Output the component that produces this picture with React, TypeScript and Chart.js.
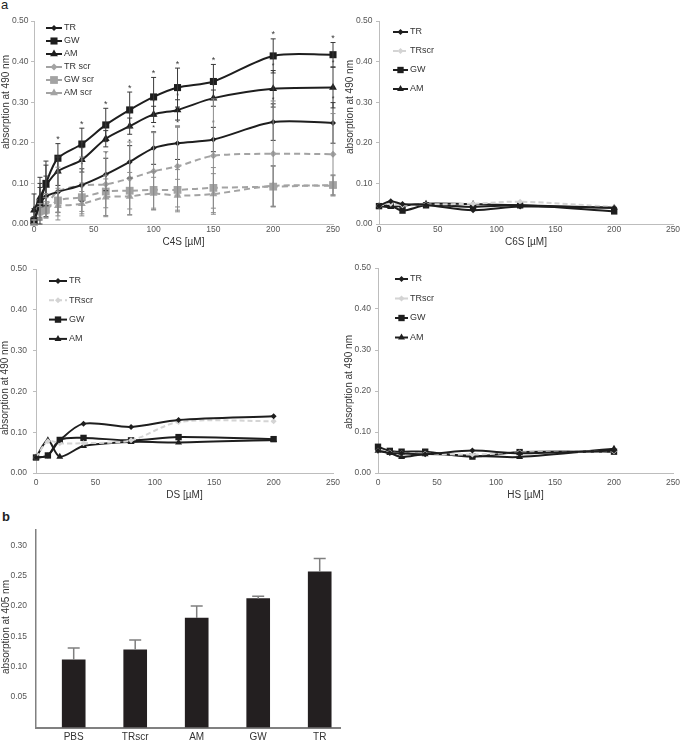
import React, { useEffect, useRef } from 'react';
import { Chart, registerables } from 'chart.js';
Chart.register(...registerables);

const FONT = '"Liberation Sans", Arial, Helvetica, sans-serif';
const BLACK = '#1e1e1e';
const GRAY = '#a3a3a3';
const LIGHT = '#d4d4d4';
const AXIS = '#bdbdbd';
const TICKCOL = '#555555';

// ---------- Panel a: C4S ----------
const c4sConc = [0, 5, 10, 20, 40, 60, 80, 100, 120, 150, 200, 250];
const c4sTR = [0.008, 0.05, 0.068, 0.079, 0.096, 0.122, 0.153, 0.187, 0.199, 0.208, 0.251, 0.249];
const c4sTRerr = [0.03, 0.04, 0.05, 0.05, 0.04, 0.04, 0.04, 0.04, 0.04, 0.03, 0.045, 0.05];
const c4sGW = [0.008, 0.05, 0.1, 0.162, 0.197, 0.244, 0.281, 0.313, 0.336, 0.351, 0.414, 0.417];
const c4sGWerr = [0.01, 0.05, 0.055, 0.036, 0.039, 0.041, 0.044, 0.048, 0.048, 0.042, 0.042, 0.03];
const c4sAM = [0.034, 0.065, 0.095, 0.13, 0.158, 0.21, 0.241, 0.27, 0.281, 0.31, 0.333, 0.336];
const c4sAMerr = [0.04, 0.05, 0.05, 0.035, 0.03, 0.02, 0.02, 0.02, 0.025, 0.02, 0.045, 0.05];
const c4sTRscr = [0.005, 0.03, 0.045, 0.08, 0.095, 0.098, 0.112, 0.13, 0.142, 0.168, 0.173, 0.172];
const c4sTRscrErr = [0.005, 0.02, 0.03, 0.06, 0.07, 0.08, 0.09, 0.095, 0.1, 0.14, 0.13, 0.1];
const c4sGWscr = [0.005, 0.035, 0.035, 0.058, 0.066, 0.08, 0.082, 0.084, 0.084, 0.089, 0.092, 0.096];
const c4sGWscrErr = [0.005, 0.015, 0.02, 0.03, 0.035, 0.04, 0.045, 0.045, 0.05, 0.05, 0.05, 0.025];
const c4sAMscr = [0.005, 0.028, 0.045, 0.045, 0.05, 0.066, 0.068, 0.075, 0.07, 0.074, 0.094, 0.094];
const c4sAMscrErr = [0.005, 0.015, 0.02, 0.035, 0.03, 0.045, 0.045, 0.04, 0.04, 0.05, 0.05, 0.025];

// ---------- C6S / DS / HS ----------
const gagConc = [0, 10, 20, 40, 80, 120, 200];
const c6sTR = [0.045, 0.056, 0.049, 0.047, 0.034, 0.043, 0.04];
const c6sTRscr = [0.045, 0.05, 0.046, 0.048, 0.05, 0.055, 0.042];
const c6sGW = [0.044, 0.045, 0.033, 0.046, 0.042, 0.046, 0.031];
const c6sAM = [0.044, 0.042, 0.045, 0.05, 0.049, 0.046, 0.04];

const dsTR = [0.038, 0.043, 0.08, 0.121, 0.113, 0.13, 0.139];
const dsTRscr = [0.038, 0.078, 0.073, 0.073, 0.08, 0.125, 0.127];
const dsGW = [0.038, 0.043, 0.081, 0.086, 0.08, 0.088, 0.083];
const dsAM = [0.038, 0.08, 0.04, 0.066, 0.076, 0.075, 0.081];

const hsTR = [0.054, 0.049, 0.048, 0.046, 0.055, 0.048, 0.055];
const hsTRscr = [0.054, 0.05, 0.048, 0.047, 0.045, 0.05, 0.053];
const hsGW = [0.064, 0.054, 0.052, 0.052, 0.04, 0.051, 0.052];
const hsAM = [0.054, 0.049, 0.039, 0.046, 0.042, 0.039, 0.059];

const yTicksLine = [0, 0.1, 0.2, 0.3, 0.4, 0.5];

// ---------- Panel b ----------
const barCats = ['PBS', 'TRscr', 'AM', 'GW', 'TR'];
const barVals = [0.1115, 0.128, 0.18, 0.212, 0.256];
const barErr = [0.0195, 0.016, 0.02, 0.004, 0.022];
const barTicks = [0.05, 0.1, 0.15, 0.2, 0.25, 0.3];

function drawMarker(ctx: CanvasRenderingContext2D, style: string, x: number, y: number, r: number, fill: string) {
  ctx.beginPath();
  if (style === 'rect') {
    const s = r * Math.SQRT1_2;
    ctx.rect(x - s, y - s, 2 * s, 2 * s);
  } else if (style === 'triangle') {
    ctx.moveTo(x, y - r);
    ctx.lineTo(x + Math.sin((2 * Math.PI) / 3) * r, y - Math.cos((2 * Math.PI) / 3) * r);
    ctx.lineTo(x + Math.sin((4 * Math.PI) / 3) * r, y - Math.cos((4 * Math.PI) / 3) * r);
    ctx.closePath();
  } else {
    ctx.moveTo(x - r, y);
    ctx.lineTo(x, y - r);
    ctx.lineTo(x + r, y);
    ctx.lineTo(x, y + r);
    ctx.closePath();
  }
  ctx.fillStyle = fill;
  ctx.fill();
}

const errorBarsPlugin = {
  id: 'errorBars',
  afterDatasetsDraw(chart: any, _args: any, opts: any) {
    const ctx = chart.ctx as CanvasRenderingContext2D;
    const ys = chart.scales.y;
    chart.data.datasets.forEach((ds: any, i: number) => {
      if (!ds.errors) return;
      const meta = chart.getDatasetMeta(i);
      ctx.save();
      ctx.strokeStyle = ds.errorColor || '#333';
      ctx.lineWidth = opts.lineWidth || 1;
      meta.data.forEach((el: any, j: number) => {
        const v = ds.data[j].y;
        const e = ds.errors[j];
        const x = el.x;
        const yTop = ys.getPixelForValue(v + e);
        const yBot = opts.upOnly ? ys.getPixelForValue(v) : ys.getPixelForValue(Math.max(0, v - e));
        const c = opts.capHalf || 2.5;
        ctx.beginPath();
        ctx.moveTo(x, yTop);
        ctx.lineTo(x, yBot);
        ctx.moveTo(x - c, yTop);
        ctx.lineTo(x + c, yTop);
        if (!opts.upOnly) {
          ctx.moveTo(x - c, yBot);
          ctx.lineTo(x + c, yBot);
        }
        ctx.stroke();
        if (ds.starFrom != null && j >= ds.starFrom) {
          ctx.fillStyle = ds.errorColor || '#333';
          ctx.font = `${ds.starSize || 9}px ${FONT}`;
          ctx.textAlign = 'center';
          ctx.textBaseline = 'middle';
          ctx.fillText('*', x, yTop - 4);
        }
      });
      ctx.restore();
    });
  },
};

const legendPlugin = {
  id: 'inLegend',
  afterDraw(chart: any, _args: any, opts: any) {
    if (!opts || !opts.dy) return;
    const ctx = chart.ctx as CanvasRenderingContext2D;
    const a = chart.chartArea;
    chart.data.datasets.forEach((ds: any, i: number) => {
      const y = a.top + opts.y0 + i * opts.dy;
      const x0 = a.left + opts.x0;
      const x1 = a.left + opts.x1;
      ctx.save();
      ctx.strokeStyle = ds.borderColor;
      ctx.lineWidth = ds.borderWidth;
      ctx.setLineDash(ds.borderDash || []);
      ctx.beginPath();
      ctx.moveTo(x0, y);
      ctx.lineTo(x1, y);
      ctx.stroke();
      ctx.setLineDash([]);
      drawMarker(ctx, ds.pointStyle, (x0 + x1) / 2, y, ds.pointRadius, ds.pointBackgroundColor);
      ctx.fillStyle = '#333';
      ctx.font = `9px ${FONT}`;
      ctx.textAlign = 'left';
      ctx.textBaseline = 'middle';
      ctx.fillText(ds.label, x1 + 2, y);
      ctx.restore();
    });
  },
};

const yTitlePlugin = {
  id: 'yTitle',
  afterDraw(chart: any, _args: any, opts: any) {
    if (!opts || !opts.text) return;
    const ctx = chart.ctx as CanvasRenderingContext2D;
    ctx.save();
    ctx.translate(opts.x, opts.y);
    ctx.rotate(-Math.PI / 2);
    ctx.font = `10px ${FONT}`;
    ctx.fillStyle = '#333';
    ctx.textAlign = 'center';
    ctx.textBaseline = 'middle';
    ctx.fillText(opts.text, 0, 0);
    ctx.restore();
  },
};

function ser(label: string, xs: number[], ys: number[], o: any) {
  return {
    label,
    data: xs.map((x, i) => ({ x, y: ys[i] })),
    borderColor: o.color,
    backgroundColor: o.color,
    pointBackgroundColor: o.color,
    pointBorderColor: o.color,
    pointBorderWidth: 0,
    borderWidth: o.width ?? 2,
    borderDash: o.dash ?? [],
    pointStyle: o.style,
    pointRadius: o.r,
    tension: 0.3,
    clip: false,
    fill: false,
    errors: o.errors,
    errorColor: o.errColor,
    starFrom: o.starFrom,
    starSize: o.starSize,
  };
}

function lineConfig(p: any) {
  return {
    type: 'line',
    data: { datasets: p.datasets },
    options: {
      responsive: false,
      animation: false,
      devicePixelRatio: 1,
      layout: { padding: p.padding, autoPadding: false },
      plugins: {
        legend: { display: false },
        tooltip: { enabled: false },
        inLegend: p.legend,
        yTitle: { text: 'absorption at 490 nm', x: p.yTitle[0], y: p.yTitle[1] },
        errorBars: { capHalf: 2.5, lineWidth: 1 },
      },
      scales: {
        x: {
          type: 'linear',
          min: 0,
          max: 250,
          ticks: {
            stepSize: 50,
            padding: p.xTickPad,
            autoSkip: false,
            maxRotation: 0,
            color: TICKCOL,
            font: { family: FONT, size: 8.5, lineHeight: 1 },
          },
          grid: { display: false, drawTicks: false, tickLength: 0 },
          border: { display: true, color: AXIS, width: 1 },
          title: {
            display: true,
            text: p.xTitle,
            color: '#333',
            font: { family: FONT, size: 10, lineHeight: 1.2 },
            padding: { top: 0, bottom: p.xTitlePad },
          },
          afterFit: (s: any) => {
            s.height = p.xH;
            s.paddingLeft = 0;
            s.paddingRight = 0;
          },
        },
        y: {
          type: 'linear',
          min: 0,
          max: 0.5,
          afterBuildTicks: (s: any) => {
            s.ticks = yTicksLine.map((v) => ({ value: v }));
          },
          ticks: {
            padding: p.yTickPad,
            color: TICKCOL,
            font: { family: FONT, size: 8.5, lineHeight: 1 },
            callback: (v: any) => Number(v).toFixed(2),
          },
          grid: { display: true, drawOnChartArea: false, drawTicks: true, tickLength: 3, color: AXIS },
          border: { display: true, color: AXIS, width: 1 },
          afterFit: (s: any) => {
            s.width = p.yW;
            s.paddingTop = 0;
            s.paddingBottom = 0;
          },
        },
      },
    },
    plugins: [errorBarsPlugin, legendPlugin, yTitlePlugin],
  };
}

function gagDatasets(tr: number[], trscr: number[], gw: number[], am: number[]) {
  return [
    ser('TR', gagConc, tr, { color: BLACK, style: 'rectRot', r: 3 }),
    ser('TRscr', gagConc, trscr, { color: LIGHT, style: 'rectRot', r: 3, dash: [5, 3] }),
    ser('GW', gagConc, gw, { color: BLACK, style: 'rect', r: 4.5 }),
    ser('AM', gagConc, am, { color: BLACK, style: 'triangle', r: 4 }),
  ];
}

const c4sConfig = () =>
  lineConfig({
    datasets: [
      ser('TR', c4sConc, c4sTR, { color: BLACK, style: 'rectRot', r: 3, errors: c4sTRerr, errColor: '#3a3a3a', starFrom: 4, starSize: 7 }),
      ser('GW', c4sConc, c4sGW, { color: BLACK, style: 'rect', r: 5, errors: c4sGWerr, errColor: '#3a3a3a', starFrom: 3, starSize: 9 }),
      ser('AM', c4sConc, c4sAM, { color: BLACK, style: 'triangle', r: 4.5, errors: c4sAMerr, errColor: '#3a3a3a', starFrom: 4, starSize: 7 }),
      ser('TR scr', c4sConc, c4sTRscr, { color: GRAY, style: 'rectRot', r: 3.5, dash: [6, 4], errors: c4sTRscrErr, errColor: '#8c8c8c' }),
      ser('GW scr', c4sConc, c4sGWscr, { color: GRAY, style: 'rect', r: 5.5, dash: [6, 4], errors: c4sGWscrErr, errColor: '#8c8c8c' }),
      ser('AM scr', c4sConc, c4sAMscr, { color: GRAY, style: 'triangle', r: 4.5, dash: [6, 4], errors: c4sAMscrErr, errColor: '#8c8c8c' }),
    ],
    xTitle: 'C4S [µM]',
    padding: { top: 21, right: 9, bottom: 0, left: 0 },
    yW: 34,
    xH: 26,
    xTickPad: 1,
    yTickPad: 2.5,
    xTitlePad: 2,
    yTitle: [6, 102],
    legend: { x0: 12, x1: 28, y0: 7, dy: 13 },
  });

const c6sConfig = () =>
  lineConfig({
    datasets: gagDatasets(c6sTR, c6sTRscr, c6sGW, c6sAM),
    xTitle: 'C6S [µM]',
    padding: { top: 21, right: 12, bottom: 0, left: 0 },
    yW: 39,
    xH: 26,
    xTickPad: 1,
    yTickPad: 3.5,
    xTitlePad: 2,
    yTitle: [10, 107],
    legend: { x0: 14, x1: 29, y0: 11, dy: 19 },
  });

const dsConfig = () =>
  lineConfig({
    datasets: gagDatasets(dsTR, dsTRscr, dsGW, dsAM),
    xTitle: 'DS [µM]',
    padding: { top: 21, right: 9, bottom: 0, left: 0 },
    yW: 36,
    xH: 29,
    xTickPad: 5,
    yTickPad: 6,
    xTitlePad: 1,
    yTitle: [5, 140],
    legend: { x0: 13, x1: 31, y0: 12, dy: 19.3 },
  });

const hsConfig = () =>
  lineConfig({
    datasets: gagDatasets(hsTR, hsTRscr, hsGW, hsAM),
    xTitle: 'HS [µM]',
    padding: { top: 20, right: 12, bottom: 0, left: 0 },
    yW: 38,
    xH: 29,
    xTickPad: 5,
    yTickPad: 4,
    xTitlePad: 1,
    yTitle: [9, 134],
    legend: { x0: 17, x1: 30, y0: 11, dy: 19.5 },
  });

const barConfig = () => ({
  type: 'bar',
  data: {
    datasets: [
      {
        label: 'absorption',
        data: barCats.map((_c, i) => ({ x: i, y: barVals[i] })),
        backgroundColor: '#231f20',
        borderWidth: 0,
        barThickness: 23,
        errors: barErr,
        errorColor: '#7f7f7f',
      },
    ],
  },
  options: {
    responsive: false,
    animation: false,
    devicePixelRatio: 1,
    layout: { padding: { top: 25, right: 5, bottom: 0, left: 0 }, autoPadding: false },
    plugins: {
      legend: { display: false },
      tooltip: { enabled: false },
      yTitle: { text: 'absorption at 405 nm', x: 6, y: 122 },
      errorBars: { capHalf: 6, lineWidth: 1.5, upOnly: true },
    },
    scales: {
      x: {
        type: 'linear',
        offset: false,
        min: -0.613,
        max: 4.33,
        afterBuildTicks: (s: any) => {
          s.ticks = barCats.map((_c, i) => ({ value: i }));
        },
        ticks: {
          padding: 5,
          autoSkip: false,
          maxRotation: 0,
          color: '#333',
          font: { family: FONT, size: 10, lineHeight: 1 },
          callback: (v: any) => barCats[Math.round(Number(v))] ?? '',
        },
        grid: { display: false, drawTicks: false, tickLength: 0 },
        border: { display: true, color: '#808080', width: 2 },
        afterFit: (s: any) => {
          s.height = 15.5;
          s.paddingLeft = 0;
          s.paddingRight = 0;
        },
      },
      y: {
        type: 'linear',
        min: 0,
        max: 0.325,
        afterBuildTicks: (s: any) => {
          s.ticks = barTicks.map((v) => ({ value: v }));
        },
        ticks: {
          padding: 9,
          color: TICKCOL,
          font: { family: FONT, size: 8.5, lineHeight: 1 },
          callback: (v: any) => Number(v).toFixed(2),
        },
        grid: { display: false, drawTicks: false, tickLength: 0 },
        border: { display: true, color: '#808080', width: 1.5 },
        afterFit: (s: any) => {
          s.width = 36;
          s.paddingTop = 0;
          s.paddingBottom = 0;
        },
      },
    },
  },
  plugins: [errorBarsPlugin, yTitlePlugin],
});

function Panel(props: { left: number; top: number; width: number; height: number; config: () => any }) {
  const ref = useRef<HTMLCanvasElement>(null);
  useEffect(() => {
    const chart = new Chart(ref.current as HTMLCanvasElement, props.config());
    return () => chart.destroy();
  }, []);
  return (
    <canvas
      ref={ref}
      width={props.width}
      height={props.height}
      style={{ position: 'absolute', left: props.left, top: props.top, width: props.width, height: props.height }}
    />
  );
}

export default function App() {
  return (
    <div style={{ position: 'absolute', left: 0, top: 0, width: 685, height: 743, background: '#fff', overflow: 'hidden' }}>
      <div style={{ position: 'absolute', left: 1, top: -3, font: `13px ${FONT}`, color: '#222' }}>a</div>
      <div style={{ position: 'absolute', left: 2, top: 509, font: `bold 13px ${FONT}`, color: '#222' }}>b</div>
      <Panel left={0} top={0} width={342} height={250} config={c4sConfig} />
      <Panel left={340} top={0} width={345} height={250} config={c6sConfig} />
      <Panel left={0} top={248} width={342} height={254} config={dsConfig} />
      <Panel left={340} top={248} width={345} height={254} config={hsConfig} />
      <Panel left={0} top={505} width={345} height={238} config={barConfig} />
    </div>
  );
}
